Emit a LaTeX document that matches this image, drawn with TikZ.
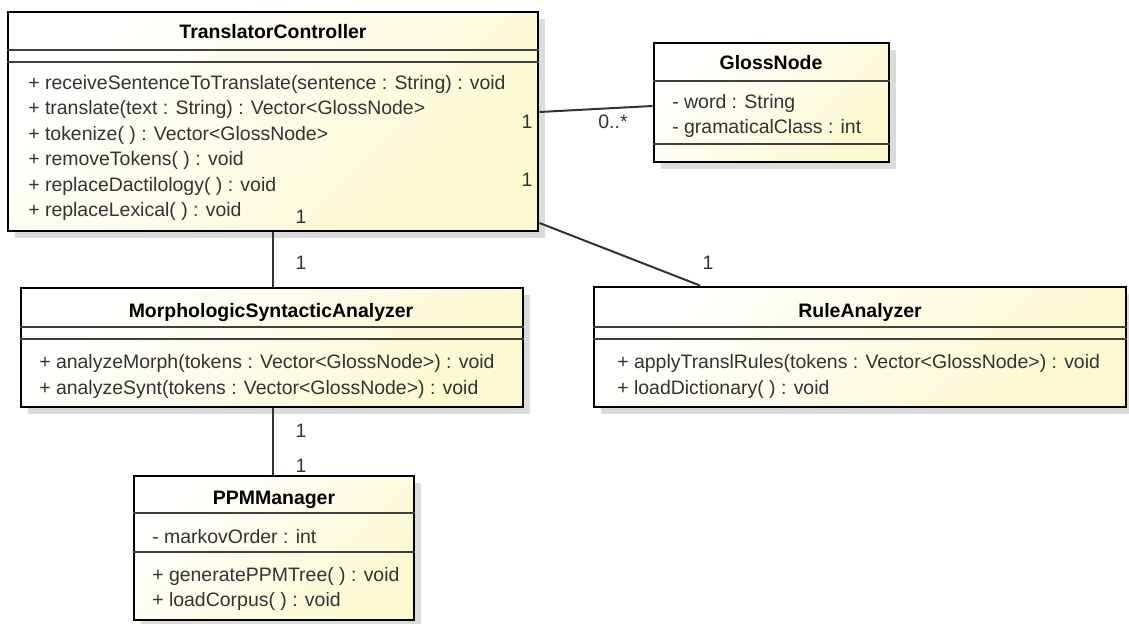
\documentclass[tikz,border=0pt]{standalone}
\usepackage{fontspec}
\setmainfont{Liberation Sans}
\usetikzlibrary{fit,shadows}
\definecolor{clsfill}{RGB}{253,249,208}
\definecolor{txtgray}{RGB}{51,51,51}

\begin{document}
\begin{tikzpicture}[x=0.75pt,y=0.75pt,yscale=-1,
  classbox/.style={draw=black,line width=2.2pt,inner sep=0pt,top color=white,bottom color=clsfill,shading angle=45,
    drop shadow={shadow xshift=5pt,shadow yshift=-5pt,fill=black!14,opacity=1}},
  sep/.style={draw=black!75,line width=1.1pt},
  title/.style={anchor=base,inner sep=0pt,font=\fontsize{14.6}{17}\selectfont\bfseries},
  member/.style={anchor=base west,inner sep=0pt,text=txtgray,font=\fontsize{14.6}{17}\selectfont},
  mult/.style={anchor=base,inner sep=0pt,text=txtgray,font=\fontsize{14.6}{17}\selectfont},
  assoc/.style={draw=black!80,line width=1.5pt}]
\useasboundingbox (0,0) rectangle (1129,624);

% Class TranslatorController
\node (tc) [classbox,fit={(8,12) (538,231)}] {};
\draw [sep] (tc.west |- 0,50) -- (tc.east |- 0,50);
\draw [sep] (tc.west |- 0,62) -- (tc.east |- 0,62);
% Text Node
\node (tcName) [title] at (273,39) {TranslatorController};
% Text Node
\node (tcOp1) [member] at (28,90) {+ receiveSentenceToTranslate(sentence : String) : void};
% Text Node
\node (tcOp2) [member] at (28,115) {+ translate(text : String) : Vector<GlossNode>};
% Text Node
\node (tcOp3) [member] at (28,141) {+ tokenize( ) : Vector<GlossNode>};
% Text Node
\node (tcOp4) [member] at (28,166) {+ removeTokens( ) : void};
% Text Node
\node (tcOp5) [member] at (28,192) {+ replaceDactilology( ) : void};
% Text Node
\node (tcOp6) [member] at (28,217) {+ replaceLexical( ) : void};

% Class GlossNode
\node (gn) [classbox,fit={(654,43) (889,162)}] {};
\draw [sep] (gn.west |- 0,81) -- (gn.east |- 0,81);
\draw [sep] (gn.west |- 0,144) -- (gn.east |- 0,144);
% Text Node
\node (gnName) [title] at (771,70) {GlossNode};
% Text Node
\node (gnAt1) [member] at (672,109) {- word : String};
% Text Node
\node (gnAt2) [member] at (672,134) {- gramaticalClass : int};

% Class MorphologicSyntacticAnalyzer
\node (msa) [classbox,fit={(21,288) (523,407)}] {};
\draw [sep] (msa.west |- 0,327) -- (msa.east |- 0,327);
\draw [sep] (msa.west |- 0,339) -- (msa.east |- 0,339);
% Text Node
\node (msaName) [title] at (271,317) {MorphologicSyntacticAnalyzer};
% Text Node
\node (msaOp1) [member] at (39,368) {+ analyzeMorph(tokens : Vector<GlossNode>) : void};
% Text Node
\node (msaOp2) [member] at (39,394) {+ analyzeSynt(tokens : Vector<GlossNode>) : void};

% Class RuleAnalyzer
\node (ra) [classbox,fit={(594,287) (1126,407)}] {};
\draw [sep] (ra.west |- 0,327) -- (ra.east |- 0,327);
\draw [sep] (ra.west |- 0,339) -- (ra.east |- 0,339);
% Text Node
\node (raName) [title] at (860,317) {RuleAnalyzer};
% Text Node
\node (raOp1) [member] at (617,368) {+ applyTranslRules(tokens : Vector<GlossNode>) : void};
% Text Node
\node (raOp2) [member] at (617,394) {+ loadDictionary( ) : void};

% Class PPMManager
\node (ppm) [classbox,fit={(134,476) (414,620)}] {};
\draw [sep] (ppm.west |- 0,513) -- (ppm.east |- 0,513);
\draw [sep] (ppm.west |- 0,552) -- (ppm.east |- 0,552);
% Text Node
\node (ppmName) [title] at (274,504) {PPMManager};
% Text Node
\node (ppmAt1) [member] at (152,543) {- markovOrder : int};
% Text Node
\node (ppmOp1) [member] at (152,581) {+ generatePPMTree( ) : void};
% Text Node
\node (ppmOp2) [member] at (152,606) {+ loadCorpus( ) : void};

% Connection
\draw [assoc] (tc.east |- 0,112) -- (gn.west |- 0,106);
% Connection
\draw [assoc] (tc.east |- 0,223) -- (ra.north -| 700,0);
% Connection
\draw [assoc] (tc.south -| 273,0) -- (msa.north -| 273,0);
% Connection
\draw [assoc] (msa.south -| 273,0) -- (ppm.north -| 273,0);

% Multiplicities
\node (mGnA) [mult] at (527,129) {1};
\node (mGnB) [mult] at (613,129) {0..*};
\node (mRaA) [mult] at (527,187) {1};
\node (mRaB) [mult] at (708,270) {1};
\node (mMsaA) [mult] at (301,224) {1};
\node (mMsaB) [mult] at (301,270) {1};
\node (mPpmA) [mult] at (301,437) {1};
\node (mPpmB) [mult] at (301,472) {1};

\end{tikzpicture}
\end{document}
